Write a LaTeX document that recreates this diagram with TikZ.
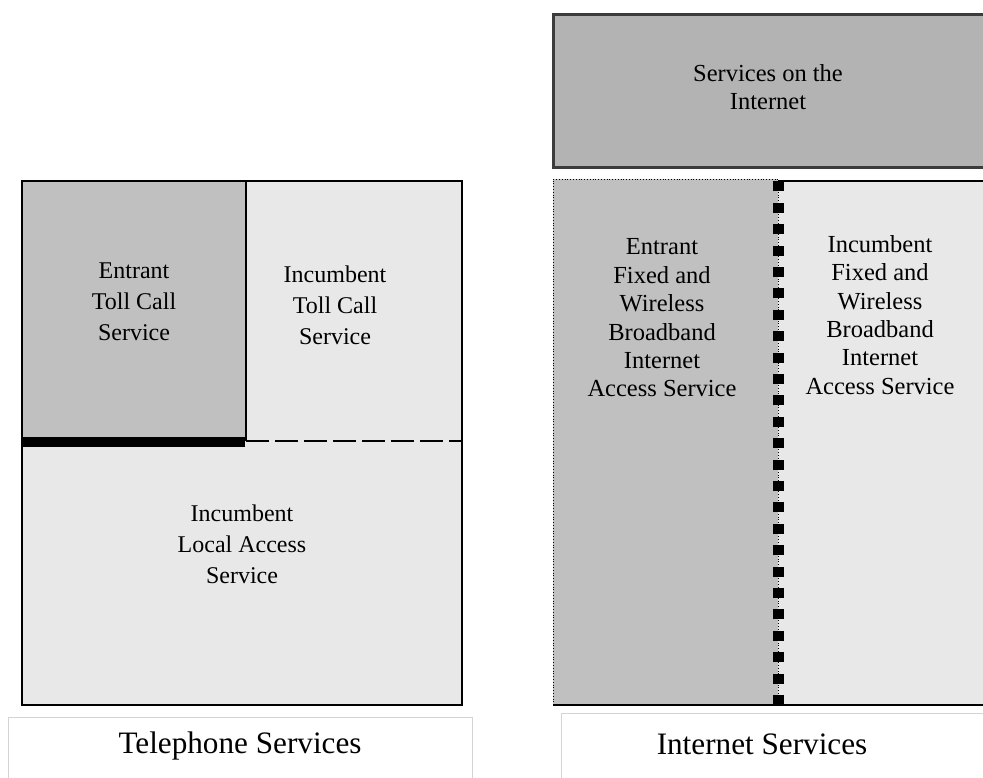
\documentclass[tikz,border=0pt]{standalone}
\usepackage{fontspec}
\setmainfont{Liberation Serif}
\definecolor{dkfill}{HTML}{C0C0C0}
\definecolor{ltfill}{HTML}{E8E8E8}
\definecolor{topfill}{HTML}{B3B3B3}
\definecolor{topborder}{HTML}{3C3C3C}
\definecolor{lblborder}{HTML}{D4D4D4}
\tikzset{
  bodytxt/.style={align=center, inner sep=0pt, font=\fontsize{24}{31}\selectfont},
  nettxt/.style={align=center, inner sep=0pt, font=\fontsize{24.5}{28.4}\selectfont},
  titletxt/.style={inner sep=0pt, font=\fontsize{31.2}{36}\selectfont},
  frame/.style={line width=2pt},
  lblbox/.style={draw=lblborder, line width=0.8pt},
}
\begin{document}
\begin{tikzpicture}[x=1pt,y=-1pt]
\useasboundingbox (0,0) rectangle (983,778);
\clip (0,0) rectangle (983,778);
% ---------- Telephone services ----------
\fill[ltfill] (22,181) rectangle (462,705);
\fill[dkfill] (22,181) rectangle (246,441);
\draw[frame] (22,181) rectangle (462,705);
\draw[frame] (246,181) -- (246,441);
\fill[black] (22,437) rectangle (245,447);
\draw[frame, dash pattern=on 23pt off 6pt] (246,441) -- (462,441);
\node[bodytxt] (ett) at (134,302) {Entrant\\Toll Call\\Service};
\node[bodytxt] (itt) at (335,305) {Incumbent\\Toll Call\\Service};
\node[bodytxt] (ila) at (242,544) {Incumbent\\Local Access\\Service};
% ---------- Internet services ----------
\fill[topfill] (553,15) rectangle (995,168);
\draw[topborder, line width=3pt] (553,15) rectangle (995,168);
\node[nettxt] (soi) at (768,87) {Services on the\\Internet};
\fill[ltfill] (778,181) rectangle (995,705);
\draw[frame] (778,181) -- (995,181);
\fill[dkfill] (553,179) rectangle (778,705);
\draw[line width=0.8pt, dotted] (553,705) -- (553,179) -- (778,179);
\draw[line width=2.5pt] (553,705) -- (995,705);
\draw[line width=0.8pt, dotted] (778,705) -- (778,181);
\draw[line width=11pt, dash pattern=on 10pt off 11.4pt] (778,705) -- (778,181);
\node[nettxt] (eba) at (662,318) {Entrant\\Fixed and\\Wireless\\Broadband\\Internet\\Access Service};
\node[nettxt] (iba) at (880,315) {Incumbent\\Fixed and\\Wireless\\Broadband\\Internet\\Access Service};
% ---------- Labels ----------
\draw[lblbox] (8,717) rectangle (472,795);
\node[titletxt] (tel) at (240,746) {Telephone Services};
\draw[lblbox] (561,713) rectangle (995,795);
\node[titletxt] (net) at (762,744) {Internet Services};
\end{tikzpicture}
\end{document}
